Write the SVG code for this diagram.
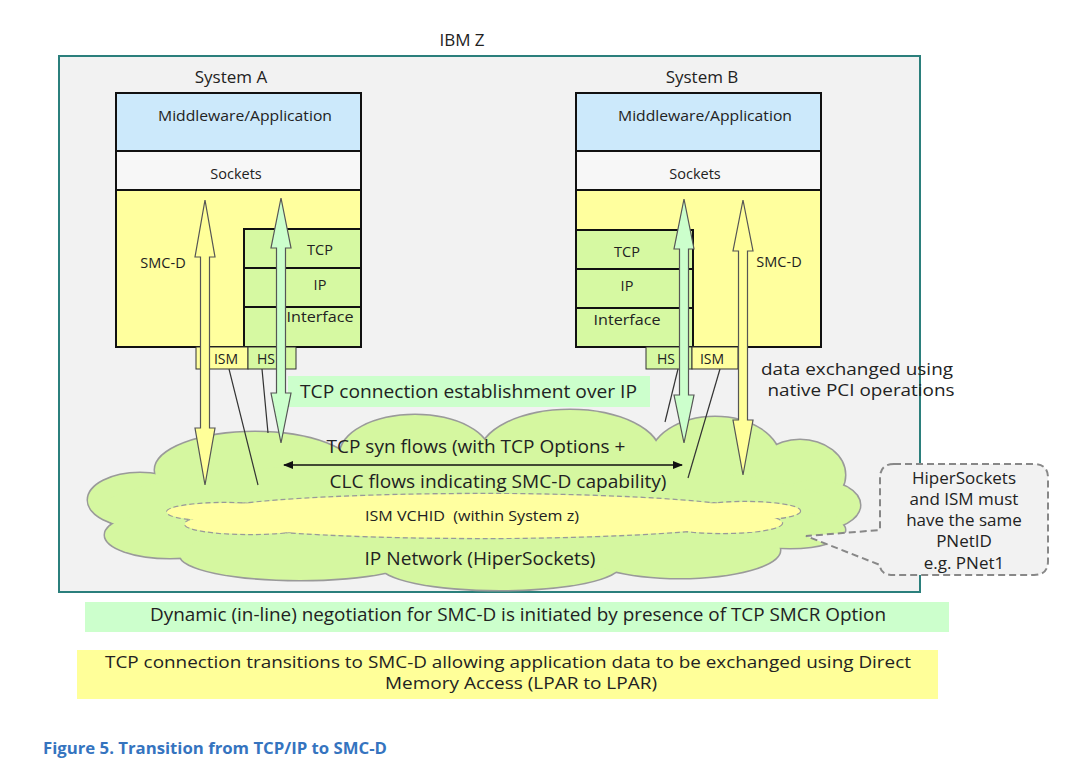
<svg xmlns="http://www.w3.org/2000/svg" width="1080" height="761" viewBox="0 0 1080 761">
<style>
text{font-family:"Open Sans","Liberation Sans",sans-serif;fill:#222}
.lbl{font-size:17px}
.s{font-size:14.5px}
.m{font-size:18px}
.b{font-size:17px}
.cl{font-size:19px}
.c{font-size:17px}
.stk{stroke:#111;stroke-width:2}
.thin{stroke:#333;stroke-width:1}
.blue{fill:#cce9fb}
.wht{fill:#f7f7f7}
.yel{fill:#ffff9e}
.grn{fill:#d6f9a2}
.arrY{fill:#ffff99;stroke:#555;stroke-width:1.2}
.arrG{fill:#ccffcc;stroke:#555;stroke-width:1.2}
.gcs{fill:none;stroke:#9a9a9a;stroke-width:3}
.gcf{fill:#d5f7a0}
.ycs{fill:none;stroke:#999;stroke-width:2.4;stroke-dasharray:5 3}
.ycf{fill:#ffffa0}
</style>
<defs>
<marker id="ah" markerWidth="10" markerHeight="8" refX="9" refY="4" orient="auto-start-reverse" markerUnits="userSpaceOnUse">
<path d="M0,0 L10,4 L0,8 Z" fill="#111"/>
</marker>
</defs>
<rect width="1080" height="761" fill="#ffffff"/>
<g id="ibmz">
<rect x="59" y="56" width="861" height="536" fill="#f2f2f2" stroke="#2b7f7c" stroke-width="2"/>
<text class="lbl" x="462" y="46" text-anchor="middle">IBM Z</text>
</g>
<g id="cloud-ip">
<g class="gcs">
<ellipse cx="140" cy="500" rx="52" ry="27"/>
<ellipse cx="255" cy="470" rx="100" ry="38"/>
<ellipse cx="415" cy="455" rx="75" ry="40"/>
<ellipse cx="570" cy="455" rx="90" ry="45"/>
<ellipse cx="715" cy="460" rx="65" ry="43"/>
<ellipse cx="800" cy="475" rx="45" ry="35"/>
<ellipse cx="815" cy="505" rx="45" ry="25"/>
<ellipse cx="470" cy="510" rx="370" ry="50"/>
<ellipse cx="170" cy="535" rx="65" ry="23"/>
<ellipse cx="300" cy="555" rx="120" ry="25"/>
<ellipse cx="500" cy="565" rx="120" ry="25"/>
<ellipse cx="680" cy="550" rx="100" ry="28"/>
<ellipse cx="790" cy="530" rx="55" ry="18"/>
</g>
<g class="gcf">
<ellipse cx="140" cy="500" rx="52" ry="27"/>
<ellipse cx="255" cy="470" rx="100" ry="38"/>
<ellipse cx="415" cy="455" rx="75" ry="40"/>
<ellipse cx="570" cy="455" rx="90" ry="45"/>
<ellipse cx="715" cy="460" rx="65" ry="43"/>
<ellipse cx="800" cy="475" rx="45" ry="35"/>
<ellipse cx="815" cy="505" rx="45" ry="25"/>
<ellipse cx="470" cy="510" rx="370" ry="50"/>
<ellipse cx="170" cy="535" rx="65" ry="23"/>
<ellipse cx="300" cy="555" rx="120" ry="25"/>
<ellipse cx="500" cy="565" rx="120" ry="25"/>
<ellipse cx="680" cy="550" rx="100" ry="28"/>
<ellipse cx="790" cy="530" rx="55" ry="18"/>
</g>
<text class="cl" x="480" y="565" text-anchor="middle" textLength="231" lengthAdjust="spacingAndGlyphs">IP Network (HiperSockets)</text>
</g>
<g id="cloud-ism">
<g class="ycs">
<ellipse cx="480" cy="516" rx="285" ry="22"/>
<ellipse cx="225" cy="512" rx="58" ry="9"/>
<ellipse cx="250" cy="524" rx="65" ry="10"/>
<ellipse cx="745" cy="511" rx="55" ry="9"/>
<ellipse cx="722" cy="523" rx="60" ry="10"/>
</g>
<g class="ycf">
<ellipse cx="480" cy="516" rx="285" ry="22"/>
<ellipse cx="225" cy="512" rx="58" ry="9"/>
<ellipse cx="250" cy="524" rx="65" ry="10"/>
<ellipse cx="745" cy="511" rx="55" ry="9"/>
<ellipse cx="722" cy="523" rx="60" ry="10"/>
</g>
<text x="472" y="521" text-anchor="middle" font-size="14.5" textLength="214" lengthAdjust="spacingAndGlyphs" xml:space="preserve">ISM VCHID  (within System z)</text>
</g>
<g id="systemA">
<text class="lbl" x="231" y="83" text-anchor="middle">System A</text>
<rect class="blue stk" x="116" y="93" width="245" height="58"/>
<rect class="wht stk" x="116" y="151" width="245" height="39"/>
<rect class="yel stk" x="116" y="190" width="245" height="157"/>
<rect class="grn stk" x="244" y="229" width="117" height="39"/>
<rect class="grn stk" x="244" y="268" width="117" height="39"/>
<rect class="grn stk" x="244" y="307" width="117" height="40"/>
<rect class="yel thin" x="196" y="347" width="52" height="22"/>
<rect class="grn thin" x="248" y="347" width="48" height="22"/>
<text class="s" x="245" y="121" text-anchor="middle" textLength="174" lengthAdjust="spacingAndGlyphs">Middleware/Application</text>
<text class="s" x="236" y="179" text-anchor="middle">Sockets</text>
<text class="s" x="163" y="268" text-anchor="middle">SMC-D</text>
<text class="s" x="320" y="255" text-anchor="middle">TCP</text>
<text class="s" x="320" y="290" text-anchor="middle">IP</text>
<text class="s" x="320" y="322" text-anchor="middle" textLength="67" lengthAdjust="spacingAndGlyphs">Interface</text>
<text font-size="14" x="226" y="364" text-anchor="middle">ISM</text>
<text font-size="14" x="266" y="364" text-anchor="middle">HS</text>
</g>
<g id="systemB">
<text class="lbl" x="702" y="83" text-anchor="middle">System B</text>
<rect class="blue stk" x="576" y="93" width="245" height="58"/>
<rect class="wht stk" x="576" y="151" width="245" height="39"/>
<rect class="yel stk" x="576" y="190" width="245" height="157"/>
<rect class="grn stk" x="576" y="230" width="117" height="39"/>
<rect class="grn stk" x="576" y="269" width="117" height="39"/>
<rect class="grn stk" x="576" y="308" width="117" height="39"/>
<rect class="grn thin" x="646" y="347" width="46" height="22"/>
<rect class="yel thin" x="692" y="347" width="46" height="22"/>
<text class="s" x="705" y="121" text-anchor="middle" textLength="174" lengthAdjust="spacingAndGlyphs">Middleware/Application</text>
<text class="s" x="695" y="179" text-anchor="middle">Sockets</text>
<text class="s" x="779" y="267" text-anchor="middle">SMC-D</text>
<text class="s" x="627" y="257" text-anchor="middle">TCP</text>
<text class="s" x="627" y="291" text-anchor="middle">IP</text>
<text class="s" x="627" y="325" text-anchor="middle" textLength="67" lengthAdjust="spacingAndGlyphs">Interface</text>
<text font-size="14" x="666" y="364" text-anchor="middle">HS</text>
<text font-size="14" x="712" y="364" text-anchor="middle">ISM</text>
</g>
<g id="tcp-est">
<rect x="288" y="376" width="362" height="31" fill="#ccffcc"/>
<text class="m" x="300" y="398" textLength="337" lengthAdjust="spacingAndGlyphs">TCP connection establishment over IP</text>
</g>
<g id="data-label">
<text class="b" x="857" y="375" text-anchor="middle" textLength="192" lengthAdjust="spacingAndGlyphs">data exchanged using</text>
<text class="b" x="861" y="396" text-anchor="middle" textLength="187" lengthAdjust="spacingAndGlyphs">native PCI operations</text>
</g>
<g id="connectors">
<line x1="229" y1="369" x2="258" y2="485" stroke="#333" stroke-width="1.2"/>
<line x1="262" y1="369" x2="268" y2="433" stroke="#333" stroke-width="1.2"/>
<line x1="678" y1="369" x2="665" y2="422" stroke="#333" stroke-width="1.2"/>
<line x1="720" y1="369" x2="688" y2="478" stroke="#333" stroke-width="1.2"/>
<polygon class="arrY" points="205,200 215,257 209.5,257 209.5,428 215,428 205,485 195,428 200.5,428 200.5,257 195,257"/>
<polygon class="arrG" points="281,198 291,248 285.5,248 285.5,393 291,393 281,443 271,393 276.5,393 276.5,248 271,248"/>
<polygon class="arrG" points="684,199 694,249 688.5,249 688.5,395 694,395 684,443 674,395 679.5,395 679.5,249 674,249"/>
<polygon class="arrY" points="743,200 753,251 747.5,251 747.5,420 753,420 743,475 733,420 738.5,420 738.5,251 733,251"/>
<line x1="284" y1="465" x2="682" y2="465" stroke="#111" stroke-width="1.6" marker-start="url(#ah)" marker-end="url(#ah)"/>
</g>
<g id="flow-text">
<text class="cl" x="476" y="453" text-anchor="middle" textLength="299" lengthAdjust="spacingAndGlyphs">TCP syn flows (with TCP Options +</text>
<text class="cl" x="498" y="488" text-anchor="middle" textLength="337" lengthAdjust="spacingAndGlyphs">CLC flows indicating SMC-D capability)</text>
</g>
<g id="callout">
<path d="M894,464 H1034 Q1048,464 1048,478 V561 Q1048,575 1034,575 H894 Q880,575 880,565 L806,536 L880,530 V478 Q880,464 894,464 Z" fill="#f2f2f2" stroke="#888" stroke-width="2" stroke-dasharray="7 4"/>
<text class="c" x="964" y="484" text-anchor="middle">HiperSockets</text>
<text class="c" x="964" y="505" text-anchor="middle">and ISM must</text>
<text class="c" x="964" y="526" text-anchor="middle">have the same</text>
<text class="c" x="964" y="547" text-anchor="middle">PNetID</text>
<text class="c" x="964" y="569" text-anchor="middle">e.g. PNet1</text>
</g>
<g id="banner-green">
<rect x="85" y="602" width="864" height="30" fill="#ccffcc"/>
<text class="m" x="150" y="621" textLength="736" lengthAdjust="spacingAndGlyphs">Dynamic (in-line) negotiation for SMC-D is initiated by presence of TCP SMCR Option</text>
</g>
<g id="banner-yellow">
<rect x="77" y="650" width="861" height="49" fill="#ffff99"/>
<text class="b" x="105" y="668" textLength="806" lengthAdjust="spacingAndGlyphs">TCP connection transitions to SMC-D allowing application data to be exchanged using Direct</text>
<text class="b" x="385" y="689" textLength="272" lengthAdjust="spacingAndGlyphs">Memory Access (LPAR to LPAR)</text>
</g>
<g id="caption">
<text x="43" y="754" font-size="16.5" font-weight="bold" style="fill:#3574bf" textLength="344" lengthAdjust="spacingAndGlyphs">Figure 5. Transition from TCP/IP to SMC-D</text>
</g>
</svg>
